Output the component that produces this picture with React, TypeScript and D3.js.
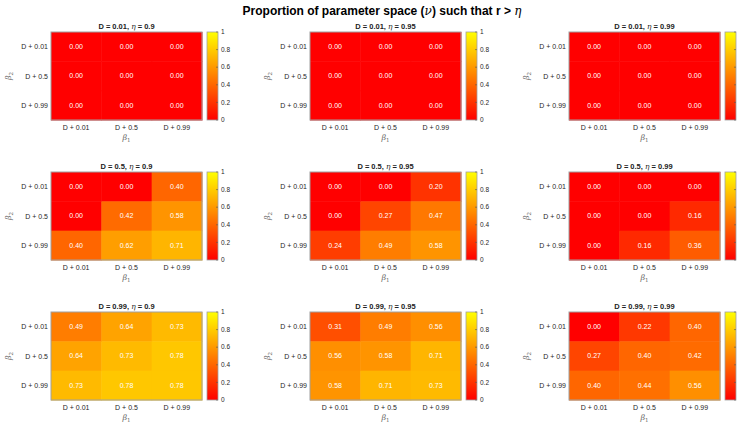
import React from 'react';
import * as d3 from 'd3';

// panel grid: rows are D, columns are eta
const dValues = ['0.01', '0.5', '0.99'];
const etaValues = ['0.9', '0.95', '0.99'];
const betaLabels = ['D + 0.01', 'D + 0.5', 'D + 0.99'];
const cbTicks = [0, 0.2, 0.4, 0.6, 0.8, 1];

// each matrix: rows = beta2, columns = beta1
const d001eta09 = [[0, 0, 0], [0, 0, 0], [0, 0, 0]];
const d001eta095 = [[0, 0, 0], [0, 0, 0], [0, 0, 0]];
const d001eta099 = [[0, 0, 0], [0, 0, 0], [0, 0, 0]];
const d05eta09 = [[0, 0, 0.40], [0, 0.42, 0.58], [0.40, 0.62, 0.71]];
const d05eta095 = [[0, 0, 0.20], [0, 0.27, 0.47], [0.24, 0.49, 0.58]];
const d05eta099 = [[0, 0, 0], [0, 0, 0.16], [0, 0.16, 0.36]];
const d099eta09 = [[0.49, 0.64, 0.73], [0.64, 0.73, 0.78], [0.73, 0.78, 0.78]];
const d099eta095 = [[0.31, 0.49, 0.56], [0.56, 0.58, 0.71], [0.58, 0.71, 0.73]];
const d099eta099 = [[0, 0.22, 0.40], [0.27, 0.40, 0.42], [0.40, 0.44, 0.56]];

const grids = [
  [d001eta09, d001eta095, d001eta099],
  [d05eta09, d05eta095, d05eta099],
  [d099eta09, d099eta095, d099eta099],
];

const colLeft = [51, 310, 569];
const rowTop = [32, 172, 312];
const W = 151;
const H = 88;
const font = '"Liberation Sans", Arial, Helvetica, sans-serif';

// MATLAB autumn colormap
const autumn = (v: number) => `rgb(255,${Math.round(255 * v)},0)`;

const Panel = ({ data, x0, y0, d, eta, gid, cbLabels }) => {
  const x = d3.scaleBand().domain(betaLabels).range([x0, x0 + W]);
  const y = d3.scaleBand().domain(betaLabels).range([y0, y0 + H]);
  const cb = d3.scaleLinear().domain([0, 1]).range([y0 + H, y0]);
  const cbX = x0 + W + 5;
  const cbW = 11;
  return (
    <g>
      <defs>
        <linearGradient id={gid} x1="0" y1="1" x2="0" y2="0">
          <stop offset="0%" stopColor={autumn(0)} />
          <stop offset="100%" stopColor={autumn(1)} />
        </linearGradient>
      </defs>
      <text x={x0 + W / 2} y={y0 - 3} textAnchor="middle" fontSize={7.5} fontWeight="bold" fill="#222">
        {`D = ${d}, `}<tspan fontStyle="italic" fontWeight="normal" fontFamily="DejaVu Serif">η</tspan>{` = ${eta}`}
      </text>
      {data.map((row, i) =>
        row.map((v, j) => (
          <g key={`${i}-${j}`}>
            <rect x={x(betaLabels[j])} y={y(betaLabels[i])} width={x.bandwidth() + 0.5} height={y.bandwidth() + 0.5} fill={autumn(v)} />
            <text x={x(betaLabels[j]) + x.bandwidth() / 2} y={y(betaLabels[i]) + y.bandwidth() / 2 + 2.4}
              textAnchor="middle" fontSize={7} fill="#fff">{v.toFixed(2)}</text>
          </g>
        ))
      )}
      <rect x={x0} y={y0} width={W} height={H} fill="none" stroke="#a0a0a0" strokeWidth={1} />
      {betaLabels.map(l => (
        <text key={'y' + l} x={x0 - 3} y={y(l) + y.bandwidth() / 2 + 2.5} textAnchor="end" fontSize={7} fill="#262626">{l}</text>
      ))}
      {betaLabels.map(l => (
        <text key={'x' + l} x={x(l) + x.bandwidth() / 2} y={y0 + H + 9.5} textAnchor="middle" fontSize={7} fill="#262626">{l}</text>
      ))}
      <text x={x0 + W / 2} y={y0 + H + 20} textAnchor="middle" fontSize={8} fill="#666" fontFamily="DejaVu Serif" fontStyle="italic">
        β<tspan fontSize={5.5} dy={2} fontStyle="normal">1</tspan>
      </text>
      <text transform={`translate(${x0 - 40},${y0 + H / 2}) rotate(-90)`} textAnchor="middle" fontSize={8} fill="#666" fontFamily="DejaVu Serif" fontStyle="italic">
        β<tspan fontSize={5.5} dy={2} fontStyle="normal">2</tspan>
      </text>
      <rect x={cbX} y={y0} width={cbW} height={H} fill={`url(#${gid})`} stroke="#a0a0a0" strokeWidth={0.8} />
      {cbTicks.map(t => (
        <g key={'c' + t}>
          <line x1={cbX + cbW - 2} x2={cbX + cbW} y1={cb(t)} y2={cb(t)} stroke="#555" strokeWidth={0.6} />
          {cbLabels && <text x={cbX + cbW + 3} y={cb(t) + 2.2} fontSize={6.5} fill="#262626">{t}</text>}
        </g>
      ))}
    </g>
  );
};

export default function App() {
  return (
    <svg width={739} height={427} style={{ position: 'absolute', left: 0, top: 0, background: '#fff' }} fontFamily={font}>
      <text x={382} y={15} textAnchor="middle" fontSize={12} fontWeight="bold" fill="#000">
        {'Proportion of parameter space ('}
        <tspan fontStyle="italic" fontWeight="normal" fontFamily="DejaVu Serif">ν</tspan>
        {') such that r > '}
        <tspan fontStyle="italic" fontWeight="normal" fontFamily="DejaVu Serif">η</tspan>
      </text>
      {grids.map((row, r) =>
        row.map((g, c) => (
          // the right column's colorbar labels fall outside the figure, as in the original
          <Panel key={`${r}${c}`} data={g} x0={colLeft[c]} y0={rowTop[r]} d={dValues[r]} eta={etaValues[c]}
            gid={`cb${r}${c}`} cbLabels={c < 2} />
        ))
      )}
    </svg>
  );
}
